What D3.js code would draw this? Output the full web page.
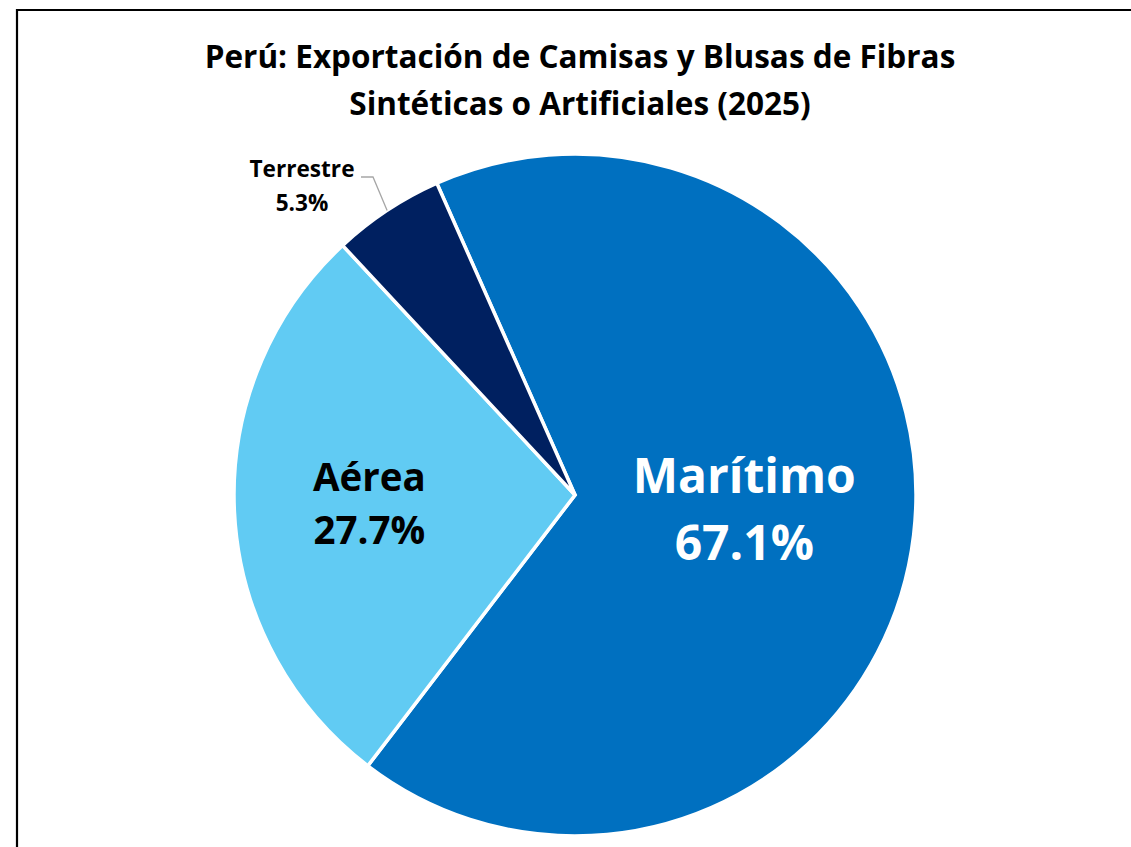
<!DOCTYPE html>
<html>
<head>
<meta charset="utf-8">
<script src="https://cdn.jsdelivr.net/npm/d3@7"></script>
<style>
  html, body { margin: 0; padding: 0; background: #fff; }
  svg { display: block; }
  text { font-variant-ligatures: none; }
</style>
</head>
<body>
<svg id="chart" width="1131" height="847"></svg>
<script>
// ---- data ----
const categories = ["Marítimo", "Aérea", "Terrestre"];
const shares = [67.1, 27.7, 5.3];
const labelTexts = ["67.1%", "27.7%", "5.3%"];
const titleLines = ["Perú: Exportación de Camisas y Blusas de Fibras", "Sintéticas o Artificiales (2025)"];

// ---- styles ----
const colors = ["#0070C0", "#61CBF3", "#002060"];
const FONT = "'Open Sans', 'Noto Sans', sans-serif";

const svg = d3.select("#chart");
const W = 1131, H = 847;

svg.append("rect").attr("x", 0).attr("y", 0).attr("width", W).attr("height", H).attr("fill", "#fff");
svg.append("path")
  .attr("d", `M17,${H + 5} L17,10 L${W + 5},10`)
  .attr("fill", "none").attr("stroke", "#000").attr("stroke-width", 2.2);

const title = svg.append("text")
  .attr("text-anchor", "middle")
  .attr("font-family", FONT)
  .attr("font-weight", 700)
  .attr("font-size", 31.5)
  .attr("fill", "#000");
title.selectAll("tspan").data(titleLines).join("tspan")
  .attr("x", 580)
  .attr("y", (d, i) => 68 + i * 47)
  .text(d => d);

const cx = 575, cy = 495, R = 341;
const startDeg = -23.9;
const start = startDeg * Math.PI / 180;
const pie = d3.pie().sort(null).value(d => d).startAngle(start).endAngle(start + 2 * Math.PI);
const arcs = pie(shares);
const arc = d3.arc().innerRadius(0).outerRadius(R);

const g = svg.append("g").attr("transform", `translate(${cx},${cy})`);
g.selectAll("path.slice").data(arcs).join("path")
  .attr("class", "slice")
  .attr("d", arc)
  .attr("fill", (d, i) => colors[i])
  .attr("stroke", "#fff")
  .attr("stroke-width", 3.5)
  .attr("stroke-linejoin", "miter");

function polar(r, a) { return [r * Math.sin(a), -r * Math.cos(a)]; }
const mid = d => (d.startAngle + d.endAngle) / 2;

{
  const d = arcs[0];
  const [x, y] = polar(R * 0.5, mid(d));
  const t = g.append("text").attr("text-anchor", "middle").attr("font-family", FONT)
    .attr("font-weight", 700).attr("font-size", 48).attr("fill", "#fff");
  t.append("tspan").attr("x", x).attr("y", y - 22).text(categories[0]);
  t.append("tspan").attr("x", x).attr("y", y + 45).text(labelTexts[0]);
}
{
  const d = arcs[1];
  const [x, y] = polar(R * 0.604, mid(d));
  const t = g.append("text").attr("text-anchor", "middle").attr("font-family", FONT)
    .attr("font-weight", 700).attr("font-size", 38.5).attr("fill", "#000");
  t.append("tspan").attr("x", x).attr("y", y - 14).text(categories[1]);
  t.append("tspan").attr("x", x).attr("y", y + 39).text(labelTexts[1]);
}
{
  const d = arcs[2];
  const a = mid(d);
  const [ex, ey] = polar(R, a);
  const elbow = [373 - cx, 177 - cy];
  const endX = 361 - cx;
  g.append("path")
    .attr("d", `M${ex},${ey} L${elbow[0]},${elbow[1]} L${endX},${elbow[1]}`)
    .attr("fill", "none").attr("stroke", "#A6A6A6").attr("stroke-width", 1.3);
  const t = g.append("text").attr("text-anchor", "middle").attr("font-family", FONT)
    .attr("font-weight", 700).attr("font-size", 22.6).attr("fill", "#000");
  const lx = 302 - cx;
  t.append("tspan").attr("x", lx).attr("y", 177 - cy).text(categories[2]);
  t.append("tspan").attr("x", lx).attr("y", 211 - cy).text(labelTexts[2]);
}
</script>
</body>
</html>
